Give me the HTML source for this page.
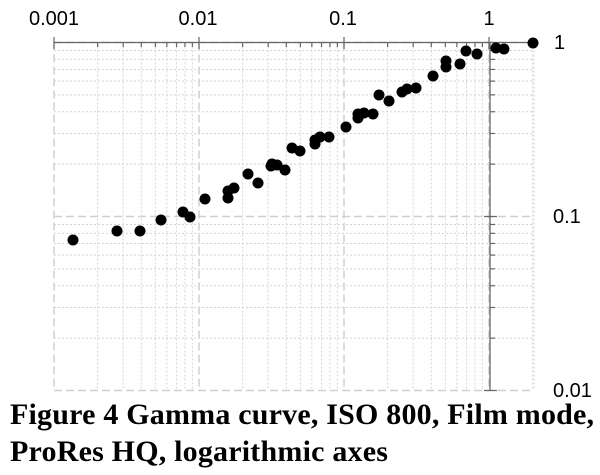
<!DOCTYPE html>
<html><head><meta charset="utf-8"><style>
html,body{margin:0;padding:0;background:#fff;width:600px;height:475px;overflow:hidden}
svg{position:absolute;left:0;top:0}
.cap{position:absolute;left:10px;font-family:"Liberation Serif",serif;font-weight:bold;font-size:30px;line-height:34px;color:#000;white-space:nowrap;letter-spacing:0.2px}
</style></head><body>
<svg id="s" width="600" height="475" xmlns="http://www.w3.org/2000/svg"></svg>
<div class="cap" style="top:398px">Figure 4 Gamma curve, ISO 800, Film mode,</div>
<div class="cap" style="top:435px">ProRes HQ, logarithmic axes</div>
<script>
var s=document.getElementById('s'),h='';
var X0=54,DX=145,Y0=42.5,DY=174;
function X(v){return X0+Math.log10(v/0.001)*DX}
function Y(v){return Y0-Math.log10(v)*DY}
var xr=534,yb=390;
for(var d=0.001;d<3;d*=10){for(var m=1;m<10;m++){var v=d*m;var x=X(v);if(x>xr+0.5)break;
 if(m==1){h+='<line x1="'+x+'" y1="'+Y0+'" x2="'+x+'" y2="'+yb+'" stroke="#d0d0d0" stroke-width="1.5" stroke-dasharray="8,4"/>';}
 else h+='<line x1="'+x+'" y1="'+Y0+'" x2="'+x+'" y2="'+yb+'" stroke="#d4d4d4" stroke-width="1" stroke-dasharray="2,2"/>';}}
h+='<line x1="'+xr+'" y1="'+Y0+'" x2="'+xr+'" y2="'+yb+'" stroke="#d4d4d4" stroke-dasharray="2,2"/>';
for(var d=0.01;d<1.5;d*=10){for(var m=1;m<10;m++){var v=d*m;var y=Y(v);if(y<Y0-0.5)break;
 if(m==1){h+='<line x1="'+X0+'" y1="'+y+'" x2="'+xr+'" y2="'+y+'" stroke="#d0d0d0" stroke-width="1.5" stroke-dasharray="8,4"/>';}
 else h+='<line x1="'+X0+'" y1="'+y+'" x2="'+xr+'" y2="'+y+'" stroke="#d4d4d4" stroke-width="1" stroke-dasharray="2,2"/>';
 if(m==1)h+='<line x1="484" y1="'+y+'" x2="497" y2="'+y+'" stroke="#666" stroke-width="1.2"/>';
 else h+='<line x1="490" y1="'+y+'" x2="495" y2="'+y+'" stroke="#666" stroke-width="1.2"/>';}}
h+='<line x1="'+X0+'" y1="'+Y0+'" x2="'+xr+'" y2="'+Y0+'" stroke="#666" stroke-width="1.3"/>';
h+='<line x1="490" y1="'+Y0+'" x2="490" y2="'+yb+'" stroke="#666" stroke-width="1.3"/>';
for(var d=0.001;d<3;d*=10){for(var m=1;m<10;m++){var x=X(d*m);if(x>xr)break;
 if(m==1)h+='<line x1="'+x+'" y1="37" x2="'+x+'" y2="49" stroke="#666" stroke-width="1.2"/>';
 else h+='<line x1="'+x+'" y1="'+Y0+'" x2="'+x+'" y2="47" stroke="#666" stroke-width="1.2"/>';}}
var f='font-family="Liberation Sans, sans-serif" font-size="20" fill="#000"';
[['0.001',54],['0.01',198],['0.1',343],['1',489]].forEach(function(a){h+='<text x="'+a[1]+'" y="25" text-anchor="middle" '+f+'>'+a[0]+'</text>';});
h+='<text x="554" y="49" '+f+'>1</text><text x="553" y="223" '+f+'>0.1</text><text x="553" y="397" '+f+'>0.01</text>';
var p=[[73,240],[117,231],[140,231],[161,220],[183,212],[190,217],[205,199],[228,198],[228,191],[234,188],[248,174],[258,183],[271,166],[272,164],[277,165],[285,170],[292,148],[300,151],[315,140],[315,144],[320,137],[329,137],[346,127],[358,114],[358,118],[364,113],[373,114],[379,95],[389,101],[402,92],[407,89],[416,88],[433,76],[446,61],[446,67],[460,64],[466,51],[477,54],[496,48],[504,49],[533,43]];
p.forEach(function(q){h+='<circle cx="'+q[0]+'" cy="'+q[1]+'" r="5.5" fill="#000"/>';});
s.innerHTML=h;
</script>
</body></html>
